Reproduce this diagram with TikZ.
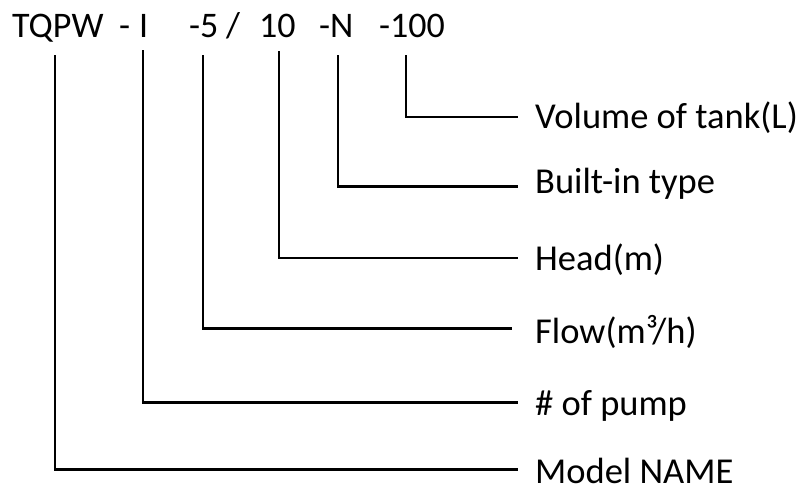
\documentclass[tikz,border=0pt]{standalone}
\usepackage{fontspec}
\setmainfont{Carlito}
\begin{document}
\begin{tikzpicture}[x=1pt,y=1pt,
  code/.style={anchor=base west,inner sep=0pt,font=\fontsize{36}{42}\selectfont},
  lab/.style={anchor=base west,inner sep=0pt,font=\fontsize{36.5}{42}\selectfont},
  conn/.style={line width=2.8pt,line join=miter}]
\useasboundingbox (0,0) rectangle (800,-488);
% code tokens
\node[code] (tqpw) at (12,-37) {TQPW};
\node[code] (dashI) at (119,-37) {-};
\node[code] (pI) at (139,-37) {I};
\node[code] (p5) at (189,-37) {-5};
\node[code] (slash) at (226,-37) {/};
\node[code] (p10) at (259,-37) {10};
\node[code] (pN) at (319,-37) {-N};
\node[code] (p100) at (379,-37) {-100};
% line tops
\coordinate (t1) at (55,-55);
\coordinate (t2) at (143,-50);
\coordinate (t3) at (203,-55);
\coordinate (t4) at (279,-51);
\coordinate (t5) at (338,-55);
\coordinate (t6) at (406,-55);
% labels
\node[lab] (l6) at (535,-128) {Volume of tank(L)};
\node[lab] (l5) at (535,-193) {Built-in type};
\node[lab] (l4) at (535,-270) {Head(m)};
\node[lab] (l3) at (535,-343) {Flow(m³/h)};
\node[lab] (l2) at (535,-415) {\# of pump};
\node[lab] (l1) at (535,-483) {Model NAME};
% connectors
\draw[conn] (t6) |- ([xshift=-17pt,yshift=11pt]l6.base west);
\draw[conn] (t5) |- ([xshift=-17pt,yshift=6.5pt]l5.base west);
\draw[conn] (t4) |- ([xshift=-17pt,yshift=12pt]l4.base west);
\draw[conn] (t3) |- ([xshift=-23pt,yshift=14.5pt]l3.base west);
\draw[conn] (t2) |- ([xshift=-17pt,yshift=12.5pt]l2.base west);
\draw[conn] (t1) |- ([xshift=-17pt,yshift=13.5pt]l1.base west);
\end{tikzpicture}
\end{document}
